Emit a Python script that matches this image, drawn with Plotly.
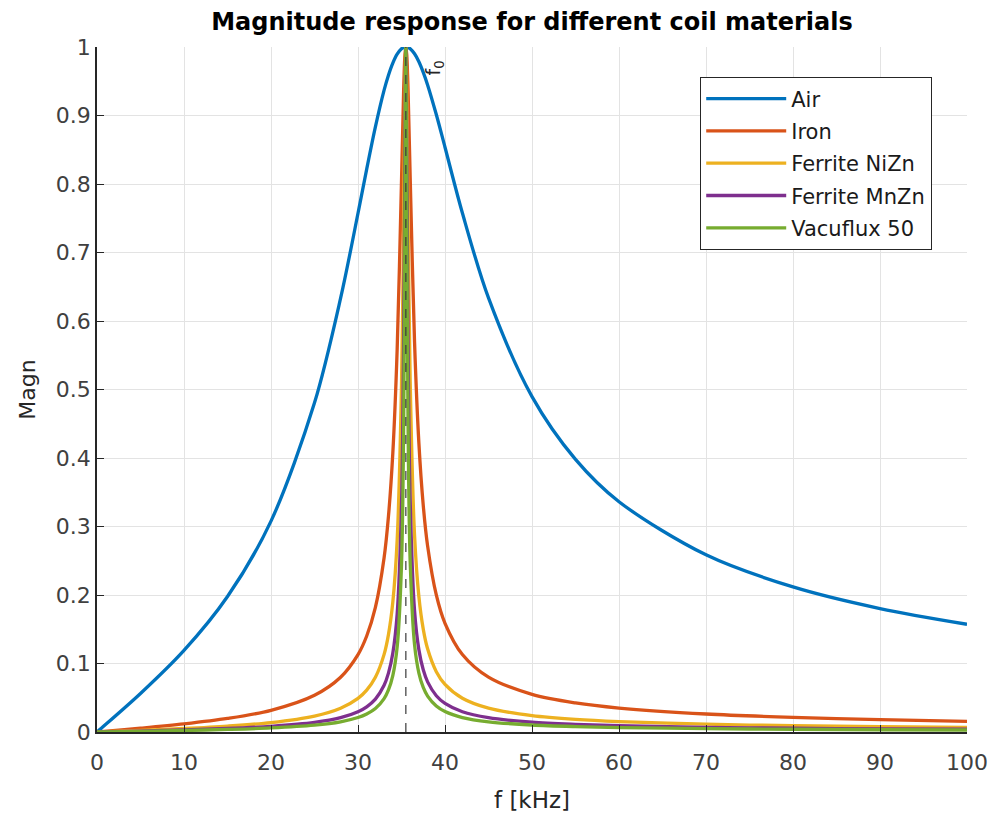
import plotly.graph_objects as go

# frequencies in kHz
freq = [0, 0.5, 5, 10, 15, 20, 25, 28, 30, 31, 32, 33, 33.5, 34, 34.5, 35, 35.25, 35.4, 35.5,
        35.6, 35.75, 36, 36.5, 37, 37.5, 38, 39, 40, 42, 45, 50, 55, 60, 70, 80, 90, 100]

air = [0, 0.0055, 0.0562, 0.1191, 0.1978, 0.3079, 0.4805, 0.6333, 0.7573, 0.8218, 0.8834, 0.9370,
       0.9589, 0.9766, 0.9896, 0.9974, 0.9994, 0.9999, 1.0,
       0.9999, 0.9994, 0.9975, 0.9901, 0.9784, 0.9630, 0.9447, 0.9014, 0.8537, 0.7576, 0.6337,
       0.4896, 0.3980, 0.3362, 0.2586, 0.2118, 0.1802, 0.1573]

iron = [0, 0.0005, 0.0055, 0.0118, 0.0198, 0.0317, 0.0537, 0.0800, 0.1130, 0.1401, 0.1818, 0.2544,
        0.3147, 0.4067, 0.5581, 0.8045, 0.9386, 0.9894, 1.0,
        0.9894, 0.9395, 0.8088, 0.5691, 0.4213, 0.3309, 0.2717, 0.2001, 0.1587, 0.1131, 0.0801,
        0.0550, 0.0425, 0.0350, 0.0263, 0.0213, 0.0180, 0.0156]

ferrite_nizn = [0, 0.0002, 0.0024, 0.0051, 0.0086, 0.0138, 0.0233, 0.0348, 0.0492, 0.0612, 0.0799,
                0.1133, 0.1422, 0.1894, 0.2797, 0.5061, 0.7628, 0.947, 1.0,
                0.947, 0.7650, 0.5119, 0.2873, 0.1974, 0.1502, 0.1214, 0.0881, 0.0695, 0.0493,
                0.0348, 0.0239, 0.0184, 0.0152, 0.0114, 0.0092, 0.0078, 0.0068]

ferrite_mnzn = [0, 0.0001, 0.0014, 0.0031, 0.0051, 0.0083, 0.0140, 0.0209, 0.0296, 0.0368, 0.0480,
                0.0682, 0.0859, 0.1150, 0.1722, 0.3321, 0.5776, 0.871, 1.0,
                0.871, 0.5805, 0.3367, 0.1771, 0.1199, 0.0908, 0.0732, 0.0530, 0.0418, 0.0296,
                0.0209, 0.0143, 0.0111, 0.0091, 0.0068, 0.0055, 0.0047, 0.0041]

vacuflux = [0, 0.0001, 0.0010, 0.0022, 0.0037, 0.0059, 0.0100, 0.0149, 0.0211, 0.0263, 0.0343,
            0.0488, 0.0615, 0.0824, 0.1239, 0.2439, 0.4512, 0.785, 1.0,
            0.785, 0.4537, 0.2474, 0.1275, 0.0860, 0.0650, 0.0524, 0.0379, 0.0298, 0.0211,
            0.0149, 0.0102, 0.0079, 0.0065, 0.0049, 0.0040, 0.0033, 0.0029]

series_names = ["Air", "Iron", "Ferrite NiZn", "Ferrite MnZn", "Vacuflux 50"]
series_values = [air, iron, ferrite_nizn, ferrite_mnzn, vacuflux]
colors = ["#0072BD", "#D95319", "#EDB120", "#7E2F8E", "#77AC30"]

f0 = 35.5
x_ticks = [0, 10, 20, 30, 40, 50, 60, 70, 80, 90, 100]
x_tick_labels = ["0", "10", "20", "30", "40", "50", "60", "70", "80", "90", "100"]
y_ticks = [0, 0.1, 0.2, 0.3, 0.4, 0.5, 0.6, 0.7, 0.8, 0.9, 1]
y_tick_labels = ["0", "0.1", "0.2", "0.3", "0.4", "0.5", "0.6", "0.7", "0.8", "0.9", "1"]

FONT = "DejaVu Sans, Liberation Sans, Arial, sans-serif"
AX = "#262626"

# body margin is removed in the page so the plot area sits at 97..967 x 47..732
W, H = 990, 821
L, R, T, B = 97, 23, 47, 89

fig = go.Figure()
for i, (name, vals, col) in enumerate(zip(series_names, series_values, colors)):
    fig.add_trace(go.Scatter(x=freq, y=vals, mode="lines", name=name, legendgroup=f"g{i}",
                             line=dict(color=col, width=3.3, shape="spline", smoothing=0.9)))

fig.add_vline(x=f0, line=dict(color="#3a3a3a", width=1.2, dash="dash"), layer="above")
fig.add_annotation(x=f0, y=0.97, xref="x", yref="y", text="f<sub>0</sub>", showarrow=False,
                   textangle=-90, xshift=29, xanchor="center", yanchor="middle",
                   font=dict(family=FONT, size=19, color=AX))

axis_common = dict(showgrid=True, gridcolor="#e3e3e3", gridwidth=1, zeroline=False,
                   showline=True, linecolor=AX, linewidth=1.5, mirror=False,
                   ticks="inside", ticklen=7, tickwidth=1.3, tickcolor=AX,
                   automargin=False, ticklabeloverflow="allow",
                   tickfont=dict(family=FONT, size=22, color="#404040"))

fig.update_layout(
    width=W, height=H,
    paper_bgcolor="white", plot_bgcolor="white",
    margin=dict(l=L, r=R, t=T, b=B, autoexpand=False),
    title=dict(text="<b>Magnitude response for different coil materials</b>",
               x=(L + (W - R)) / 2 / W, xanchor="center", y=1 - 22 / H, yanchor="middle",
               font=dict(family=FONT, size=24, color="black")),
    xaxis=dict(range=[0, 100], tickvals=x_ticks, ticktext=x_tick_labels, ticklabelstandoff=10,
               title=dict(text="f [kHz]", font=dict(family=FONT, size=23, color=AX), standoff=18),
               **axis_common),
    yaxis=dict(range=[0, 1], tickvals=y_ticks, ticktext=y_tick_labels,
               title=dict(text="Magn", font=dict(family=FONT, size=22, color=AX), standoff=14),
               **axis_common),
    legend=dict(x=0.693, y=0.956, xanchor="left", yanchor="top",
                bgcolor="white", bordercolor=AX, borderwidth=1.3,
                font=dict(family=FONT, size=21, color="#1a1a1a"), itemwidth=80,
                tracegroupgap=2),
    showlegend=True,
)

fig.write_html("out.html", config={"displayModeBar": False},
               post_script="document.body.style.margin='0';document.body.style.overflow='hidden';")
